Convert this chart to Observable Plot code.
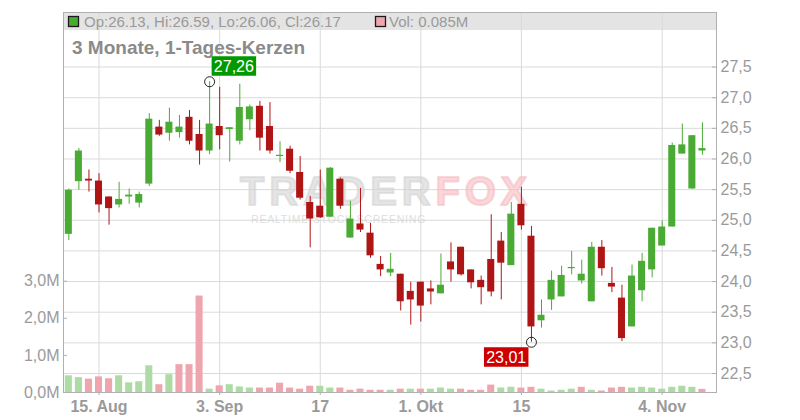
<!DOCTYPE html>
<html>
<head>
<meta charset="utf-8">
<script src="https://cdn.jsdelivr.net/npm/d3@7"></script>
<script src="https://cdn.jsdelivr.net/npm/@observablehq/plot@0.6"></script>
<style>
  html, body { margin: 0; padding: 0; background: #fff; overflow: hidden; }
  #wrap { position: relative; width: 800px; height: 420px; }
  #wrap > svg { position: absolute; left: 0; top: 0; }
</style>
</head>
<body>
<div id="wrap"></div>
<script>
// ---- data ----
const openP  = [24.77,25.63,25.67,25.64,25.38,25.25,25.38,25.28,25.59,26.52,
                26.42,26.43,26.68,26.40,26.13,26.53,26.48,26.29,26.64,26.86,
                26.53,26.04,26.16,25.78,25.29,25.23,25.05,25.67,24.71,24.94,
                24.79,24.28,24.14,24.12,23.84,23.99,23.88,23.80,24.32,24.56,
                24.19,24.02,24.36,24.66,24.26,25.26,24.74,23.36,23.70,23.75,
                24.21,24.01,23.67,24.56,23.97,23.73,23.26,23.85,24.19,24.58,
                24.89,26.08,25.51,26.13];
const highP  = [25.51,26.17,25.82,25.76,25.38,25.62,25.51,25.46,26.74,26.63,
                26.83,26.71,26.79,26.63,27.26,27.17,26.51,27.22,26.88,26.94,
                26.92,26.28,26.21,26.04,25.39,25.82,25.86,25.69,25.31,25.52,
                24.95,24.41,24.46,24.12,23.99,23.99,24.01,24.45,24.63,24.56,
                24.19,24.09,25.09,24.80,25.29,25.54,24.90,23.70,24.17,24.25,
                24.49,24.35,24.64,24.67,24.23,23.94,24.27,24.46,24.87,24.99,
                26.26,26.57,26.38,26.59];
const lowP   = [24.67,25.49,25.46,25.12,24.92,25.20,25.26,25.20,25.55,26.37,
                26.29,26.34,26.23,25.90,26.07,26.15,25.95,26.23,26.46,26.13,
                26.08,25.94,25.76,25.33,24.55,25.03,25.05,25.18,24.71,24.80,
                24.38,24.08,24.08,23.52,23.29,23.34,23.62,23.80,23.99,24.09,
                23.88,23.62,23.75,23.70,24.26,24.84,23.01,23.24,23.53,23.75,
                24.11,23.96,23.67,24.09,23.82,23.02,23.26,23.67,24.06,24.58,
                24.89,26.08,25.51,26.06];
const closeP = [25.49,26.13,25.64,25.25,25.19,25.34,25.41,25.42,26.65,26.39,
                26.60,26.52,26.29,26.13,26.57,26.38,26.51,26.84,26.85,26.34,
                26.13,26.06,25.80,25.36,25.02,25.04,25.85,25.23,25.02,24.84,
                24.42,24.19,24.20,23.67,23.70,23.60,23.83,23.94,24.19,24.11,
                23.98,23.90,23.83,24.30,25.10,24.91,23.26,23.45,24.02,24.10,
                24.23,24.12,24.56,24.21,23.91,23.07,24.09,24.33,24.87,24.89,
                26.22,26.23,26.38,26.17];
const volumeM = [0.45,0.40,0.36,0.42,0.37,0.45,0.26,0.29,0.72,0.21,
                 0.48,0.75,0.75,2.60,0.09,0.18,0.21,0.15,0.12,0.12,
                 0.12,0.25,0.12,0.09,0.17,0.17,0.12,0.12,0.06,0.09,
                 0.06,0.06,0.06,0.09,0.09,0.09,0.09,0.12,0.09,0.09,
                 0.06,0.06,0.20,0.12,0.14,0.12,0.14,0.09,0.04,0.06,
                 0.09,0.14,0.06,0.04,0.12,0.14,0.12,0.14,0.12,0.09,
                 0.14,0.17,0.14,0.085];
const priceTicks = [22.5,23.0,23.5,24.0,24.5,25.0,25.5,26.0,26.5,27.0,27.5];
const volTicks = [0,1,2,3];
const dateTickIdx = [3,15,25,35,45,59];
const dateTickLabels = ["15. Aug","3. Sep","17","1. Okt","15","4. Nov"];
const titleText = "3 Monate, 1-Tages-Kerzen";
const watermarkA = "TRADER", watermarkB = "FOX", watermarkSub = "REALTIME STOCK SCREENING";

// ---- styling ----
const GREEN = "#4aab34", RED = "#b01515";
const VGREEN = "#acdba4", VPINK = "#eea5ae";
const GRID = "#dadada", AXIS = "#b0b0b0", TXT = "#9a9a9a";
const FONT = "'Liberation Sans', Arial, sans-serif";
const W = 800, H = 420, ML = 63, MR = 84, MT = 12, MB = 28;
const XDOM = [-0.53, 64.4];

const candles = d3.range(openP.length).map(i => ({i, o: openP[i], h: highP[i], l: lowP[i], c: closeP[i]}));
const vols = d3.range(volumeM.length).map(i => ({
  i, v: volumeM[i],
  up: i === 0 ? closeP[i] >= openP[i] : closeP[i] >= closeP[i - 1]
}));
const iMax = d3.maxIndex(highP), iMin = d3.minIndex(lowP);
const extremes = [
  {i: iMax, v: highP[iMax], kind: "hi"},
  {i: iMin, v: lowP[iMin], kind: "lo"}
];
const fmt1 = d => d.toFixed(1).replace(".", ",");
const fmt2 = d => d.toFixed(2).replace(".", ",");
const last = openP.length - 1;

function headerMark(index, scales, values, dims) {
  const g = d3.create("svg:g");
  const x0 = dims.marginLeft, w = dims.width - dims.marginLeft - dims.marginRight;
  g.append("rect").attr("x", x0).attr("y", dims.marginTop).attr("width", w).attr("height", 18).attr("fill", "#e4e4e4");
  return g.node();
}
function headerText(index, scales, values, dims) {
  const g = d3.create("svg:g").attr("font-family", FONT).attr("text-anchor", "start");
  const x0 = dims.marginLeft;
  g.append("rect").attr("x", x0 + 5.5).attr("y", 16.5).attr("width", 10).attr("height", 10)
    .attr("fill", GREEN).attr("stroke", "#1a1a1a").attr("stroke-width", 1.3);
  g.append("text").attr("x", x0 + 21).attr("y", 26.5).attr("font-size", 15).attr("fill", TXT)
    .text(`Op:${openP[last].toFixed(2)}, Hi:${highP[last].toFixed(2)}, Lo:${lowP[last].toFixed(2)}, Cl:${closeP[last].toFixed(2)}`);
  g.append("rect").attr("x", x0 + 312.5).attr("y", 16.5).attr("width", 10).attr("height", 10)
    .attr("fill", VPINK).attr("stroke", "#1a1a1a").attr("stroke-width", 1.3);
  g.append("text").attr("x", x0 + 326).attr("y", 26.5).attr("font-size", 15).attr("fill", TXT)
    .text(`Vol: ${volumeM[last].toFixed(3)}M`);
  g.append("text").attr("x", x0 + 9).attr("y", 54).attr("font-size", 19).attr("font-weight", "bold")
    .attr("fill", "#8a8a8a").text(titleText);
  return g.node();
}
function watermark(index, scales, values, dims) {
  const g = d3.create("svg:g").attr("font-family", FONT).attr("font-weight", "bold").attr("text-anchor", "start");
  const t = g.append("text").attr("x", 240).attr("y", 205).attr("font-size", 40).attr("letter-spacing", 4.8)
    .attr("stroke-width", 2).attr("stroke-linejoin", "round");
  t.append("tspan").attr("fill", "#d4d4d4").attr("stroke", "#d4d4d4").attr("fill-opacity", 0.6).attr("stroke-opacity", 0.6).text(watermarkA);
  t.append("tspan").attr("fill", "#f7bcc2").attr("stroke", "#f7bcc2").attr("fill-opacity", 0.6).attr("stroke-opacity", 0.6).text(watermarkB);
  g.append("text").attr("x", 251).attr("y", 223).attr("font-size", 10.5).attr("font-weight", "normal")
    .attr("letter-spacing", 0.8).attr("fill", "#d2d2d2").attr("fill-opacity", 0.75).text(watermarkSub);
  return g.node();
}
function extremeLabels(index, scales) {
  const g = d3.create("svg:g").attr("font-family", FONT).attr("text-anchor", "middle");
  for (const e of extremes) {
    const cx = scales.x(e.i), cy = scales.y(e.v);
    const bw = 44.5, bh = 19.5;
    const bx = e.kind === "hi" ? cx + 2.5 : cx - 2.5 - bw;
    const by = e.kind === "hi" ? cy - 5.5 - bh : cy + 5.5;
    g.append("rect").attr("x", bx).attr("y", by).attr("width", bw).attr("height", bh)
      .attr("fill", e.kind === "hi" ? "#009a00" : "#cc0000");
    g.append("text").attr("x", bx + bw / 2).attr("y", by + bh / 2 + 5.7)
      .attr("font-size", 16).attr("fill", "#fff").text(fmt2(e.v));
  }
  return g.node();
}

const pricePlot = Plot.plot({
  width: W, height: H, marginLeft: ML, marginRight: MR, marginTop: MT, marginBottom: MB,
  style: {background: "white", fontFamily: FONT, overflow: "visible"},
  x: {type: "linear", domain: XDOM, axis: null},
  y: {type: "linear", domain: [22.19, 28.39], axis: null},
  marks: [
    headerMark,
    Plot.gridX(dateTickIdx, {x: d => d, stroke: GRID, strokeOpacity: 1}),
    Plot.gridY(priceTicks, {y: d => d, stroke: GRID, strokeOpacity: 1}),
    watermark,
    headerText,
    Plot.frame({stroke: AXIS}),
    Plot.axisY(priceTicks, {anchor: "right", label: null, tickSize: 0, tickPadding: 4, tickFormat: fmt1,
      fontSize: 16, fill: TXT}),
    Plot.tickY(priceTicks, {y: d => d, insetLeft: W - ML - MR - 4, stroke: AXIS}),
    Plot.axisX(dateTickIdx, {anchor: "bottom", label: null, tickSize: 3, tickPadding: 5, stroke: AXIS,
      tickFormat: d => dateTickLabels[dateTickIdx.indexOf(d)], fontSize: 16, fontWeight: "bold", fill: TXT}),
    Plot.ruleX(candles, {x: "i", y1: "l", y2: "h", stroke: d => d.c >= d.o ? GREEN : RED, strokeWidth: 1}),
    Plot.rect(candles, {x1: d => d.i - 0.35, x2: d => d.i + 0.35, y1: "o", y2: "c",
      fill: d => d.c >= d.o ? GREEN : RED}),
    Plot.dot(extremes, {x: "i", y: "v", r: 5, stroke: "#222", fill: "none", strokeWidth: 1}),
    extremeLabels
  ]
});

const volPlot = Plot.plot({
  width: W, height: H, marginLeft: ML, marginRight: MR, marginTop: MT, marginBottom: MB,
  style: {background: "transparent", fontFamily: FONT, overflow: "visible"},
  x: {type: "linear", domain: XDOM, axis: null},
  y: {type: "linear", domain: [0, 10.24], axis: null},
  marks: [
    Plot.rect(vols, {x1: d => d.i - 0.35, x2: d => d.i + 0.35, y1: 0, y2: "v",
      fill: d => d.up ? VGREEN : VPINK}),
    Plot.axisY(volTicks, {anchor: "left", label: null, tickSize: 0, tickPadding: 4,
      tickFormat: d => fmt1(d) + "M", fontSize: 16, fill: TXT}),
    Plot.tickY(volTicks, {y: d => d, insetRight: W - ML - MR - 4, stroke: AXIS})
  ]
});

const wrap = document.getElementById("wrap");
wrap.appendChild(pricePlot);
wrap.appendChild(volPlot);
</script>
</body>
</html>
